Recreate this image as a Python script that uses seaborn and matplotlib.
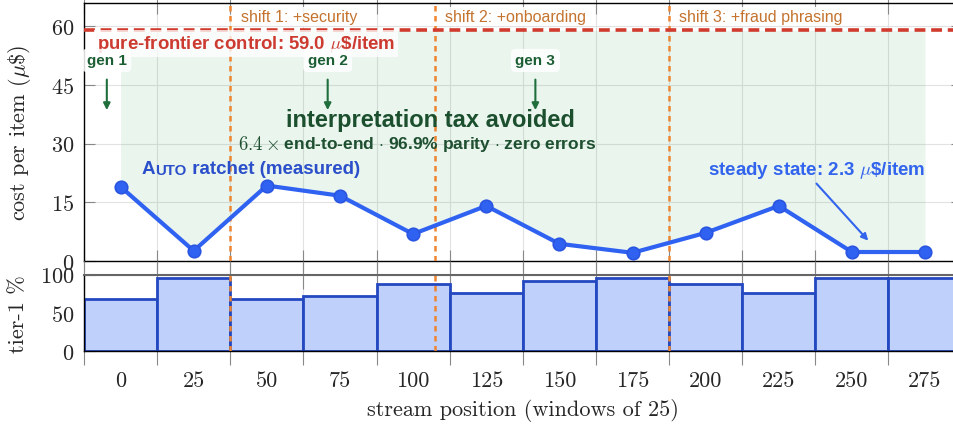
import numpy as np
import pandas as pd
import matplotlib
matplotlib.use("Agg")
import matplotlib.pyplot as plt
import seaborn as sns

# data
pos = [0, 25, 50, 75, 100, 125, 150, 175, 200, 225, 250, 275]
cost = [19.0, 2.6, 19.3, 16.7, 6.9, 14.1, 4.4, 2.1, 7.2, 14.1, 2.3, 2.3]
tier1 = [68, 96, 68, 72, 88, 76, 92, 96, 88, 76, 96, 96]
control = 59.0
shift_x = [37.5, 107.5, 187.5]
shift_labels = ["shift 1: +security", "shift 2: +onboarding", "shift 3: +fraud phrasing"]
gen_x = [-4.7, 70.8, 141.8]
gen_labels = ["gen 1", "gen 2", "gen 3"]
win = 25

sns.set_style("white")
plt.rcParams["font.family"] = ["cmr10", "DejaVu Serif"]
plt.rcParams["mathtext.fontset"] = "cm"
plt.rcParams["axes.formatter.use_mathtext"] = True
SANS = ["Liberation Sans", "DejaVu Sans"]

df = pd.DataFrame({"pos": pos, "cost": cost, "tier1": tier1})
edges = np.append(np.array(pos) - win / 2, pos[-1] + win / 2)

W, H = 954, 427
def px_box(l, t, r, b):
    return [l / W, 1 - b / H, (r - l) / W, (b - t) / H]

fig = plt.figure(figsize=(9.54, 4.27), dpi=100)
ax = fig.add_axes(px_box(84, 4, 961.6, 262))
ax2 = fig.add_axes(px_box(84, 275.7, 961.6, 352.3))

# ---- top panel: cost per item
ax.fill_between(df["pos"], df["cost"], control, color="#2e9e55", alpha=0.1, lw=0, zorder=1)
ax.axhline(control, color="#d13b2e", lw=2.6, ls=(0, (3, 1.6)), zorder=4)
for x in shift_x:
    ax.axvline(x, color="#ee8530", lw=1.8, ls=(0, (2.2, 1.8)), zorder=3)
sns.lineplot(data=df, x="pos", y="cost", ax=ax, color="#3062f2", lw=3, marker="o",
             markersize=9, markeredgecolor="#2a55e0", markeredgewidth=1.2, zorder=5)

for x, lab in zip(shift_x, shift_labels):
    ax.text(x + 3.5, 62.5, lab, color="#c4732e", fontsize=11.5, family=SANS,
            va="center", ha="left", zorder=6,
            bbox=dict(fc="white", ec="none", pad=1.5, alpha=0.9))

ax.text(-8.1, 55.6, r"pure-frontier control: 59.0 $\mu$\$/item", color="#cc3a30",
        fontsize=13.4, fontweight="bold", family=SANS, va="center", zorder=6,
        bbox=dict(fc="white", ec="none", alpha=0.75, pad=2))

for x, lab in zip(gen_x, gen_labels):
    ax.text(x, 51.3, lab, ha="center", va="center", fontsize=11, fontweight="bold",
            family=SANS, color="#1c5e34", zorder=7,
            bbox=dict(boxstyle="round,pad=0.3", fc="white", ec="none", alpha=0.85))
    ax.annotate("", xy=(x, 38.6), xytext=(x, 46.4), zorder=7,
                arrowprops=dict(arrowstyle="-|>", color="#1f6e3c", lw=1.5,
                                mutation_scale=10, shrinkA=0, shrinkB=0))

ax.text(105.8, 36.3, "interpretation tax avoided", ha="center", va="center",
        fontsize=17, fontweight="bold", family=SANS, color="#1b4f2e", zorder=6)
s1 = ax.text(40.2, 28.6, r"$6.4\times$", ha="left", va="baseline", fontsize=13.5,
             color="#1e4f30", zorder=6)
ax.annotate(r" end-to-end $\cdot$ 96.9% parity $\cdot$ zero errors", xy=(1, 0),
            xycoords=s1, va="bottom", fontsize=12.5, fontweight="bold", family=SANS,
            color="#1e4f30", zorder=6)

# small-caps "Auto"
t1 = ax.text(7.3, 22.4, "A", fontsize=13.5, fontweight="bold", family=SANS,
             color="#2b4fca", va="baseline", zorder=6)
t2 = ax.annotate("UTO", xy=(1, 0), xycoords=t1, va="bottom", fontsize=10.8,
                 fontweight="bold", family=SANS, color="#2b4fca", zorder=6)
ax.annotate(" ratchet (measured)", xy=(1, 0), xycoords=t2, va="bottom", fontsize=13.5,
            fontweight="bold", family=SANS, color="#2b4fca", zorder=6)

ax.text(200.9, 23.4, r"steady state: 2.3 $\mu$\$/item", fontsize=13.5, fontweight="bold",
        family=SANS, color="#3264ee", va="center", zorder=6)
ax.annotate("", xy=(255.6, 5.2), xytext=(237.9, 19.8), zorder=6,
            arrowprops=dict(arrowstyle="-|>", color="#3264ee", lw=1.5,
                            mutation_scale=10, shrinkA=0, shrinkB=0))

ax.set_xlim(edges[0], edges[-1])
ax.set_ylim(0, 66)
ax.set_yticks([0, 15, 30, 45, 60])
ax.set_xticks(edges)
ax.set_xticklabels([])
ax.set_xlabel("")
ax.set_ylabel(r"cost per item ($\mu\$$)", fontsize=16)
ax.yaxis.set_label_coords(33 / W, 1 - 133 / H, transform=fig.transFigure)
ax.tick_params(axis="x", direction="inout", length=16, color="#888888",
               top=True, bottom=True, labelbottom=False)
ax.tick_params(axis="y", direction="in", length=8, color="#888888", left=True,
               right=True, labelsize=16, pad=7)
ax.set_axisbelow(True)
ax.grid(True, color="#e2e2e2", lw=0.8)
for s in ax.spines.values():
    s.set_color("black")
    s.set_linewidth(1)

# ---- bottom panel: tier-1 share
sns.barplot(data=df, x="pos", y="tier1", ax=ax2, native_scale=True, width=1,
            color="#bfd0fa", saturation=1, edgecolor="#2448c0", linewidth=2,
            errorbar=None, zorder=2)
for x in shift_x:
    ax2.axvline(x, color="#ee8530", lw=1.8, ls=(0, (2.2, 1.8)), zorder=4)

ax2.set_xlim(edges[0], edges[-1])
ax2.set_ylim(0, 100)
ax2.set_yticks([0, 50, 100])
ax2.set_xticks(edges)
ax2.set_xticklabels([])
ax2.set_xticks(pos, minor=True)
ax2.set_xticklabels([str(p) for p in pos], minor=True)
ax2.tick_params(axis="x", which="major", direction="inout", length=20, color="#888888",
                top=True, bottom=True)
ax2.tick_params(axis="x", which="minor", length=0, pad=14, labelsize=16)
ax2.tick_params(axis="y", direction="in", length=8, color="#888888", left=True,
                right=True, labelsize=16, pad=7)
ax2.set_axisbelow(True)
ax2.grid(True, which="major", color="#e2e2e2", lw=0.8)
ax2.set_ylabel("tier-1 %", fontsize=16)
ax2.yaxis.set_label_coords(28 / W, 1 - 314 / H, transform=fig.transFigure)
ax2.set_xlabel("stream position (windows of 25)", fontsize=16)
ax2.xaxis.set_label_coords(523 / W, 1 - 399 / H, transform=fig.transFigure)
for s in ax2.spines.values():
    s.set_color("black")
    s.set_linewidth(1)
ax2.spines["top"].set_color("#666666")
ax2.spines["top"].set_linewidth(1.5)

fig.savefig("out.png", dpi=100)
